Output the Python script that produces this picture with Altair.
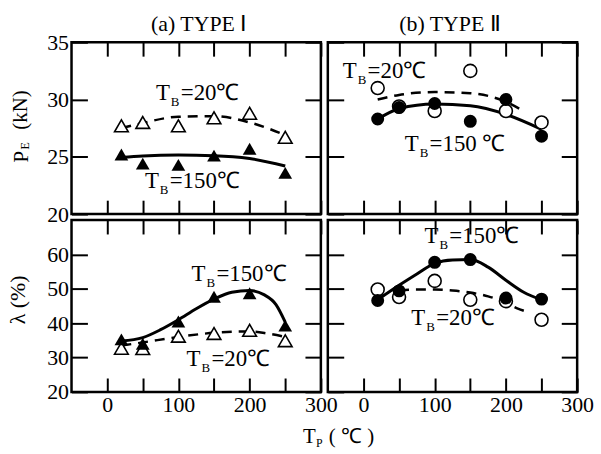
import altair as alt
import pandas as pd

# ---------------- data ----------------
TP = [20, 50, 100, 150, 200, 250]

# (a) TYPE I : P_E (kN)
PE_I_TB20 = [27.7, 28.0, 27.7, 28.4, 28.8, 26.7]
PE_I_TB150 = [25.2, 24.4, 24.3, 25.1, 25.7, 23.6]
# (b) TYPE II : P_E (kN)
PE_II_TB20 = [31.0, 29.4, 29.0, 32.5, 29.0, 28.0]
PE_II_TB150 = [28.3, 29.3, 29.65, 28.1, 30.0, 26.8]
# (a) TYPE I : lambda (%)
LAM_I_TB20 = [32.7, 32.6, 36.2, 37.0, 37.9, 34.9]
LAM_I_TB150 = [35.3, 34.0, 40.5, 47.7, 48.7, 39.3]
# (b) TYPE II : lambda (%)
LAM_II_TB20 = [49.8, 47.6, 52.3, 46.8, 46.4, 41.0]
LAM_II_TB150 = [46.6, 49.4, 57.7, 58.5, 47.3, 47.0]

# trend curves
FIT_PE_I_TB150_X = [20, 50, 100, 150, 200, 250]
FIT_PE_I_TB150_Y = [24.95, 25.08, 25.15, 25.1, 24.85, 24.2]
FIT_PE_I_TB20_X = [20, 50, 100, 150, 200, 250]
FIT_PE_I_TB20_Y = [27.5, 27.95, 28.5, 28.55, 28.0, 26.9]
FIT_PE_II_TB150_X = [20, 50, 100, 150, 200, 250]
FIT_PE_II_TB150_Y = [28.3, 29.2, 29.6, 29.45, 28.7, 27.4]
FIT_PE_II_TB20_X = [20, 50, 100, 150, 200, 227]
FIT_PE_II_TB20_Y = [30.0, 30.4, 30.65, 30.55, 29.8, 28.9]
FIT_LAM_I_TB150_X = [20, 50, 75, 100, 125, 150, 175, 200, 220, 237, 250]
FIT_LAM_I_TB150_Y = [34.8, 35.8, 38.1, 41.0, 44.2, 47.0, 49.0, 49.5, 48.3, 45.4, 40.3]
FIT_LAM_I_TB20_X = [20, 50, 100, 150, 200, 225, 250]
FIT_LAM_I_TB20_Y = [33.5, 34.4, 36.0, 37.2, 37.6, 37.0, 36.0]
FIT_LAM_II_TB150_X = [20, 50, 75, 100, 125, 150, 175, 200, 225, 250]
FIT_LAM_II_TB150_Y = [46.8, 51.0, 54.3, 57.4, 58.4, 58.5, 56.3, 52.5, 49.0, 46.8]
FIT_LAM_II_TB20_X = [50, 75, 100, 125, 150, 175, 200, 215, 227]
FIT_LAM_II_TB20_Y = [49.6, 49.8, 49.8, 49.5, 48.9, 47.8, 46.0, 44.4, 43.5]

# curve labels (position of the "T" of T_B, in data units)
ANN_PE_I_X = [68.5, 53]
ANN_PE_I_Y = [29.95, 22.3]
ANN_PE_I_TAIL = ["=20℃", "=150℃"]
ANN_PE_II_X = [-29, 58]
ANN_PE_II_Y = [31.9, 25.5]
ANN_PE_II_TAIL = ["=20℃", "=150 ℃"]
ANN_LAM_I_X = [118.5, 111.5]
ANN_LAM_I_Y = [52.3, 27.5]
ANN_LAM_I_TAIL = ["=150℃", "=20℃"]
ANN_LAM_II_X = [85.7, 67.2]
ANN_LAM_II_Y = [63.3, 39.6]
ANN_LAM_II_TAIL = ["=150℃", "=20℃"]

X_DOMAIN = [-50, 300]
X_TICKS = [0, 50, 100, 150, 200, 250, 300]
PE_DOMAIN = [20, 35]
PE_TICKS = [20, 25, 30, 35]
LAM_DOMAIN = [20, 70]
LAM_TICKS = [20, 30, 40, 50, 60]

PANEL_TITLES = ["(a) TYPE Ⅰ", "(b) TYPE Ⅱ"]

FONT = "Liberation Serif"
W, H = 251, 173
PAD_L, PAD_T, PAD_R, PAD_B = 70, 39, 22, 63


def xaxis(orient, labels):
    kw = dict(orient=orient, values=X_TICKS, offset=-14, tickSize=14, tickWidth=2,
              tickColor="black", domain=False, grid=False, title=None, labels=labels)
    if labels:
        kw.update(labelExpr="datum.value % 100 == 0 ? datum.label : ''", labelFont=FONT,
                  labelFontSize=22, labelColor="black", labelPadding=3,
                  labelFlush=False, labelOverlap=False, labelBound=False)
    return alt.Axis(**kw)


def yaxis(orient, labels, ticks):
    kw = dict(orient=orient, values=ticks, offset=-16, tickSize=16, tickWidth=2,
              tickColor="black", domain=False, grid=False, title=None, labels=labels)
    if labels:
        kw.update(labelFont=FONT, labelFontSize=22, labelColor="black", labelPadding=3,
                  labelFlush=False, labelOverlap=False, labelBound=False)
    return alt.Axis(**kw)


def panel(open_y, filled_y, fit20, fit150, ann, ydom, yticks, shape, size,
          xlabels, ylabels, extras):
    xs = alt.Scale(domain=X_DOMAIN, nice=False, zero=False)
    ys = alt.Scale(domain=ydom, nice=False, zero=False)
    d_open = pd.DataFrame({"x": TP, "y": open_y})
    d_fill = pd.DataFrame({"x": TP, "y": filled_y})
    d_f20 = pd.DataFrame({"x": fit20[0], "y": fit20[1]})
    d_f150 = pd.DataFrame({"x": fit150[0], "y": fit150[1]})
    d_ann = pd.DataFrame({"x": ann[0], "y": ann[1], "tail": ann[2]})

    def enc(c, xa=None, ya=None):
        return c.encode(x=alt.X("x:Q", scale=xs, axis=xa), y=alt.Y("y:Q", scale=ys, axis=ya))

    layers = [
        enc(alt.Chart(d_open).mark_point(opacity=0),
            xaxis("bottom", xlabels), yaxis("left", ylabels, yticks)),
        enc(alt.Chart(d_open).mark_point(opacity=0),
            xaxis("top", False), yaxis("right", False, yticks)),
        enc(alt.Chart(d_f20).mark_line(color="black", strokeWidth=2.5,
                                       strokeDash=[10, 7], interpolate="monotone")),
        enc(alt.Chart(d_f150).mark_line(color="black", strokeWidth=3,
                                        interpolate="monotone")),
        enc(alt.Chart(d_open).mark_point(shape=shape, size=size, filled=True, fill="white",
                                         stroke="black", strokeWidth=1.6, opacity=1)),
        enc(alt.Chart(d_fill).mark_point(shape=shape, size=size, filled=True, color="black",
                                         opacity=1)),
        enc(alt.Chart(d_ann).mark_text(text="T", font=FONT, fontSize=23, align="left",
                                       baseline="alphabetic", color="black")),
        enc(alt.Chart(d_ann).mark_text(text="B", font=FONT, fontSize=13, align="left",
                                       baseline="alphabetic", dx=15, dy=6, color="black")),
        enc(alt.Chart(d_ann).mark_text(font=FONT, fontSize=23, align="left",
                                       baseline="alphabetic", dx=25, color="black"))
        .encode(text="tail:N"),
    ]
    layers += extras
    return (alt.layer(*layers).properties(width=W, height=H)
            .resolve_axis(x="independent", y="independent"))


def label(txt, x, y, size=20, angle=0, align="left"):
    return alt.Chart(pd.DataFrame({"t": [txt]})).mark_text(
        font=FONT, fontSize=size, angle=angle, align=align, baseline="alphabetic",
        color="black").encode(text="t:N", x=alt.value(x), y=alt.value(y))


def frame(x, x2, y, y2):
    # invisible box that fixes the outer margin of the figure
    return alt.Chart(pd.DataFrame({"t": [0]})).mark_rect(opacity=0).encode(
        x=alt.value(x), x2=alt.value(x2), y=alt.value(y), y2=alt.value(y2))


pa_top = panel(PE_I_TB20, PE_I_TB150,
               (FIT_PE_I_TB20_X, FIT_PE_I_TB20_Y), (FIT_PE_I_TB150_X, FIT_PE_I_TB150_Y),
               (ANN_PE_I_X, ANN_PE_I_Y, ANN_PE_I_TAIL), PE_DOMAIN, PE_TICKS,
               "triangle-up", 190, False, True,
               [frame(-PAD_L, 0, -PAD_T, 0),
                label(PANEL_TITLES[0], 128, -11, 22, align="center"),
                label("P", -44, 121, 21, 270),
                label("E", -43, 108, 12, 270),
                label("(kN)", -45, 88, 21, 270)])
pb_top = panel(PE_II_TB20, PE_II_TB150,
               (FIT_PE_II_TB20_X, FIT_PE_II_TB20_Y), (FIT_PE_II_TB150_X, FIT_PE_II_TB150_Y),
               (ANN_PE_II_X, ANN_PE_II_Y, ANN_PE_II_TAIL), PE_DOMAIN, PE_TICKS,
               "circle", 170, False, False,
               [label(PANEL_TITLES[1], 123, -11, 22, align="center")])
pa_bot = panel(LAM_I_TB20, LAM_I_TB150,
               (FIT_LAM_I_TB20_X, FIT_LAM_I_TB20_Y), (FIT_LAM_I_TB150_X, FIT_LAM_I_TB150_Y),
               (ANN_LAM_I_X, ANN_LAM_I_Y, ANN_LAM_I_TAIL), LAM_DOMAIN, LAM_TICKS,
               "triangle-up", 190, True, True,
               [label("λ (%)", -47, 105, 22, 270),
                label("T", 233, 224, 21),
                label("P", 246, 228, 12),
                label("( ℃ )", 259, 224, 21)])
pb_bot = panel(LAM_II_TB20, LAM_II_TB150,
               (FIT_LAM_II_TB20_X, FIT_LAM_II_TB20_Y), (FIT_LAM_II_TB150_X, FIT_LAM_II_TB150_Y),
               (ANN_LAM_II_X, ANN_LAM_II_Y, ANN_LAM_II_TAIL), LAM_DOMAIN, LAM_TICKS,
               "circle", 170, True, False,
               [frame(W, W + PAD_R, H, H + PAD_B)])

chart = (alt.concat(pa_top, pb_top, pa_bot, pb_bot, columns=2,
                    spacing={"row": 6, "column": 7}, bounds="flush")
         .properties(padding=0, background="white")
         .configure_view(stroke="black", strokeWidth=2.5))

chart.save("out.html", embed_options={"renderer": "svg", "actions": False})
